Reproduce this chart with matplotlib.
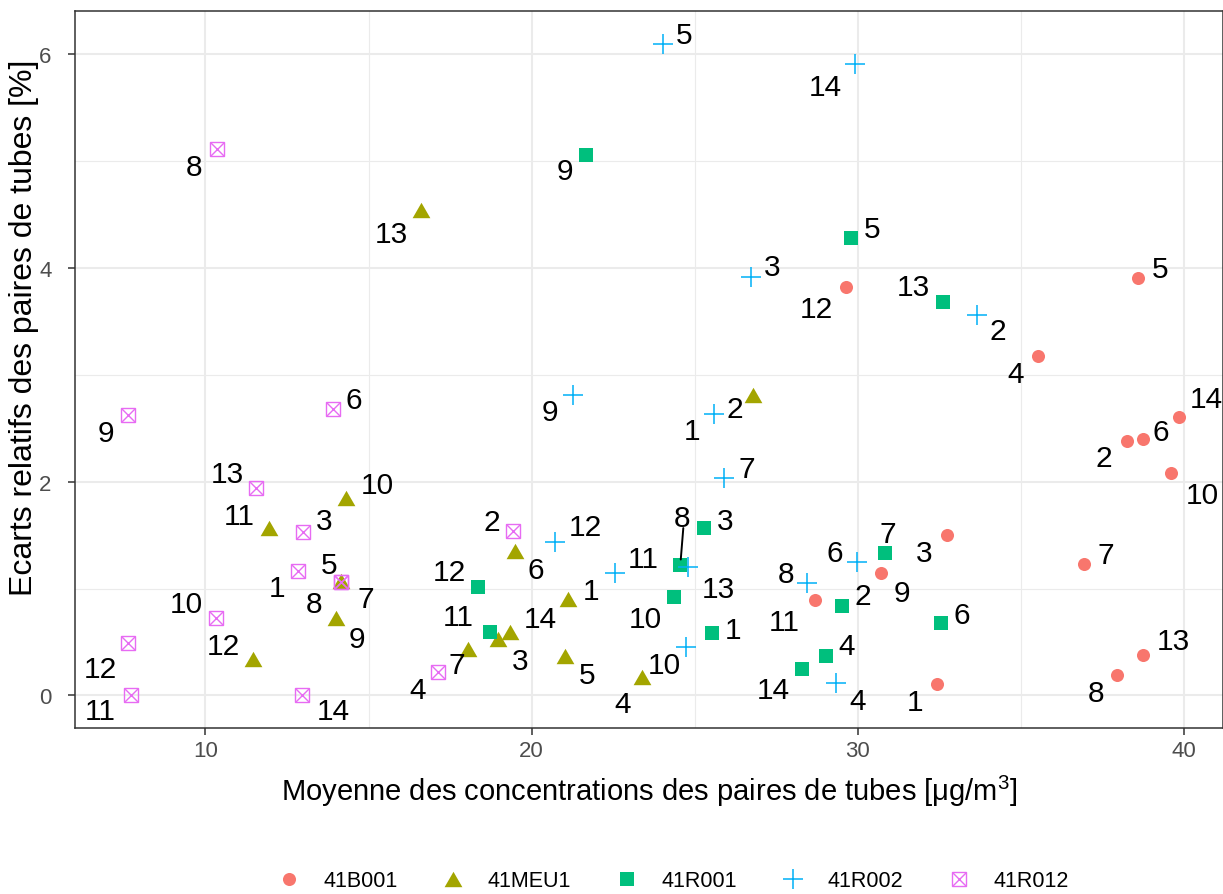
import numpy as np
import matplotlib
matplotlib.use("Agg")
import matplotlib.pyplot as plt
from matplotlib.legend_handler import HandlerTuple

plt.rcParams['font.family'] = ['Liberation Sans', 'DejaVu Sans']

# stations and pair numbers
stations = ['41B001', '41MEU1', '41R001', '41R002', '41R012']
pair_ids = [1, 2, 3, 4, 5, 6, 7, 8, 9, 10, 11, 12, 13, 14]

# mean concentration of the tube pairs [ug/m3], pairs 1..14
b001_x = [32.43, 38.26, 32.74, 35.53, 38.59, 38.75, 36.94, 37.95, 30.72, 39.60, 28.69, 29.64, 38.75, 39.85]
meu1_x = [21.12, 26.79, 18.98, 23.39, 21.03, 19.50, 18.06, 14.17, 14.01, 14.32, 11.96, 11.47, 16.62, 19.35]
r001_x = [25.54, 29.52, 25.29, 29.03, 29.80, 32.56, 30.84, 24.56, 21.68, 24.37, 18.73, 18.37, 32.62, 28.30]
r002_x = [25.60, 33.66, 26.73, 29.34, 24.04, 29.98, 25.91, 28.45, 21.28, 24.74, 22.57, 20.73, 24.80, 29.92]
r012_x = [12.85, 19.44, 13.00, 17.14, 14.17, 13.92, 14.17, 10.34, 7.61, 10.31, 7.73, 7.61, 11.56, 12.97]

# relative difference between the two tubes [%]
b001_y = [0.11, 2.38, 1.50, 3.18, 3.91, 2.40, 1.23, 0.19, 1.15, 2.08, 0.89, 3.82, 0.38, 2.61]
meu1_y = [0.90, 2.81, 0.53, 0.17, 0.37, 1.35, 0.43, 1.07, 0.72, 1.85, 1.57, 0.34, 4.54, 0.59]
r001_y = [0.58, 0.84, 1.57, 0.37, 4.28, 0.68, 1.33, 1.22, 5.06, 0.92, 0.59, 1.01, 3.68, 0.25]
r002_y = [2.63, 3.56, 3.92, 0.12, 6.10, 1.25, 2.03, 1.05, 2.81, 0.45, 1.15, 1.44, 1.20, 5.91]
r012_y = [1.16, 1.54, 1.53, 0.22, 1.06, 2.68, 1.06, 5.11, 2.62, 0.72, 0.00, 0.49, 1.94, 0.00]

# label placement (pixels from the point), like ggrepel put them
off_b001 = [(-22, -15), (-23, -14), (-23, -15), (-22, -15), (22, 12), (18, 10), (22, 12),
            (-21, -15), (21, -17), (31, -19), (-31, -19), (-30, -19), (30, 17), (27, 21)]
off_meu1 = [(23, 11), (-18, -11), (22, -19), (-20, -24), (22, -16), (21, -16), (-12, -13),
            (-27, -20), (21, -18), (31, 16), (-30, 15), (-30, 16), (-30, -21), (30, 16)]
off_r001 = [(21, 6), (21, 13), (21, 10), (21, 13), (21, 12), (21, 11), (3, 22),
            (2, 50), (-22, -13), (-29, -19), (-32, 18), (-29, 18), (-30, 18), (-29, -18)]
off_r002 = [(-22, -14), (21, -13), (21, 13), (21, -15), (21, 12), (-22, 12), (22, 12),
            (-21, 12), (-23, -14), (-22, -15), (28, 17), (30, 18), (30, -19), (-30, -20)]
off_r012 = [(-21, -14), (-22, 12), (21, 14), (-21, -15), (-12, 20), (21, 12), (24, -14),
            (-23, -15), (-22, -15), (-29, 17), (-31, -13), (-27, -23), (-29, 17), (31, -13)]

colors = ['#F8766D', '#A3A500', '#00BF7D', '#00B0F6', '#E76BF3']
tri = [(-1, -0.866), (1, -0.866), (0, 0.866)]

series = [
    (b001_x, b001_y, off_b001, dict(marker='o', ms=9.4, mew=0)),
    (meu1_x, meu1_y, off_meu1, dict(marker=tri, ms=12.8, mew=0)),
    (r001_x, r001_y, off_r001, dict(marker='s', ms=9.8, mew=0)),
    (r002_x, r002_y, off_r002, dict(marker='+', ms=14.4, mew=1.1)),
    (r012_x, r012_y, off_r012, dict(marker='s', ms=9.4, mew=1.0, mfc='none')),
]

W, H = 1223, 895
fig = plt.figure(figsize=(W / 100, H / 100), dpi=100)
ax = fig.add_axes([75 / W, (H - 729) / H, (W - 75) / W, 717 / H])

handles = []
for (xs, ys, offs, st), col in zip(series, colors):
    ln, = ax.plot(xs, ys, ls='none', color=col, mec=col, zorder=3, **st)
    h = ln
    if st['marker'] == 's' and st.get('mfc') == 'none':
        lx, = ax.plot(xs, ys, ls='none', marker='x', ms=st['ms'], mew=1.0, color=col, zorder=3)
        h = (ln, lx)
    handles.append(h)

# point labels
for (xs, ys, offs, st) in series:
    for x, y, lab, (dx, dy) in zip(xs, ys, pair_ids, offs):
        ax.annotate(str(lab), (x, y), xytext=(dx, dy - 11), textcoords='offset pixels',
                    ha='center', va='baseline', fontsize=21.5, color='black', zorder=5)

# leader segment for the 41R001 pair 8 label
ax.annotate('', (r001_x[7], r001_y[7]), xytext=(3, 37), textcoords='offset pixels',
            arrowprops=dict(arrowstyle='-', color='black', lw=1.4, shrinkA=0, shrinkB=4), zorder=4)

ax.set_xticks([10, 20, 30, 40])
ax.set_yticks([0, 2, 4, 6])
ax.set_xticks([5, 15, 25, 35], minor=True)
ax.set_yticks([1, 3, 5], minor=True)
ax.set_xlim(6.0, 41.2)
ax.set_ylim(-0.305, 6.405)
ax.grid(True, which='major', color='#EBEBEB', lw=1.5, zorder=0)
ax.grid(True, which='minor', color='#EBEBEB', lw=0.8, zorder=0)
ax.set_axisbelow(True)
ax.tick_params(which='major', length=5, width=1.1, color='#333333', labelcolor='#4D4D4D',
               labelsize=16, pad=4)
ax.tick_params(axis='y', pad=12)
ax.tick_params(which='minor', length=0)
for sp in ax.spines.values():
    sp.set_color('#333333')
    sp.set_linewidth(1.1)

ax.set_xlabel(r'Moyenne des concentrations des paires de tubes [$\mathregular{\mu}$g/m$^{\mathregular{3}}$]',
              fontsize=21, labelpad=8)
ax.set_ylabel('Ecarts relatifs des paires de tubes [%]', fontsize=23, labelpad=4)
ax.yaxis.set_label_coords(-0.031, 0.56)

fig.legend(handles, stations, loc='center', bbox_to_anchor=(668 / W, 1 - 882 / H), ncol=5,
           frameon=False, fontsize=15.5, handletextpad=0.6, columnspacing=1.6,
           handler_map={tuple: HandlerTuple(ndivide=1, pad=0)})

fig.savefig('out.png', dpi=100)
